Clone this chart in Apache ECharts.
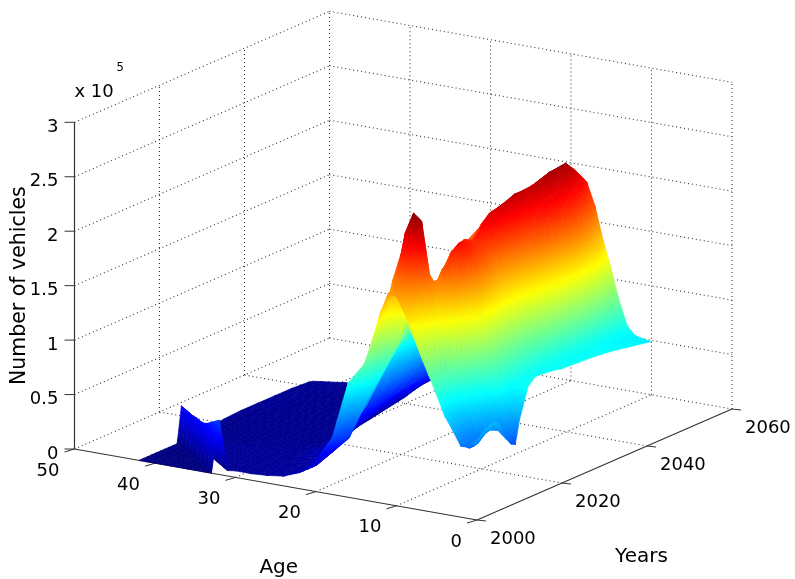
<!DOCTYPE html>
<html>
<head>
<meta charset="utf-8">
<style>
  html, body { margin: 0; padding: 0; background: #fff; }
  #chart { width: 795px; height: 579px; }
</style>
<script src="https://cdn.jsdelivr.net/npm/echarts@6/dist/echarts.min.js"></script>
</head>
<body>
<div id="chart"></div>
<script>
// tick labels
var ageTicks = [0, 10, 20, 30, 40, 50];
var yearTicks = [2000, 2020, 2040, 2060];
var valueTicks = [0, 0.5, 1, 1.5, 2, 2.5, 3];
// surface samples, values in units of 10^5 vehicles
var ages = [0, 2, 3, 4, 5, 6, 7, 8, 9, 10, 11, 12, 13, 14, 16, 18, 20, 22, 24, 26, 28, 30, 31, 32, 33, 34, 35, 36, 37, 38, 39, 40, 41, 42];
var years = [2000, 2001, 2002, 2003, 2004, 2005, 2006, 2007, 2008, 2009, 2010, 2012, 2014, 2016, 2018, 2020, 2024, 2028, 2032, 2036, 2040, 2041];
var vehicles = [
  [.7,.65,.78,.9,1.08,1.25,1.42,1.6,1.78,1.92,1.94,1.75,1.48,1.25,1.05,.52,.28,.15,.09,.07,.06,.06, .05,.5,0,0,0,0,0,0,0,0,0,0],
  [.75,.63,.75,.88,1.05,1.22,1.42,1.62,1.85,1.98,1.95,1.8,1.55,1.3,1,.52,.3,.15,.09,.07,.06,.06, .06,.05,.46,0,0,0,0,0,0,0,0,0],
  [.8,.6,.72,.85,1.02,1.2,1.45,1.72,2,2.08,2,1.85,1.6,1.32,.95,.5,.3,.15,.09,.07,.06,.06, .06,.06,.05,.42,0,0,0,0,0,0,0,0],
  [.82,.6,.72,.85,1.05,1.25,1.5,1.85,2.2,2.3,2.25,2,1.65,1.32,.88,.48,.3,.15,.08,.07,.06,.06, .06,.06,.06,.05,.38,0,0,0,0,0,0,0],
  [.83,.61,.72,.85,1.05,1.25,1.6,2.08,2.56,2.62,2.43,2.03,1.65,1.3,.8,.45,.3,.15,.08,.07,.06,.06, .06,.06,.06,.06,.05,.35,0,0,0,0,0,0],
  [.8,.66,.8,.95,1.2,1.5,1.85,2,2,1.95,1.85,1.7,1.45,1.25,.85,.52,.33,.17,.09,.07,.06,.06, .06,.06,.06,.06,.06,.05,.34,0,0,0,0,0],
  [.72,.7,.85,1,1.35,1.75,2.12,2,1.88,1.85,1.72,1.55,1.35,1.2,.9,.6,.38,.2,.1,.07,.06,.06, .06,.06,.06,.06,.06,.06,.05,.34,0,0,0,0],
  [.62,.75,.9,1.1,1.45,1.95,2.2,2.08,1.9,1.85,1.78,1.62,1.42,1.27,.95,.64,.42,.22,.11,.08,.06,.06, .06,.06,.06,.06,.06,.06,.06,.05,.33,0,0,0],
  [.56,.8,1,1.25,1.6,2.1,2.25,2.1,1.95,1.85,1.8,1.7,1.5,1.35,1,.68,.45,.25,.12,.08,.06,.06, .06,.06,.06,.06,.06,.06,.06,.06,.05,.33,0,0],
  [.54,.98,1.15,1.35,1.78,2.2,2.3,2.2,2.02,1.87,1.8,1.7,1.58,1.4,1.05,.74,.55,.32,.16,.09,.06,.06, .06,.06,.06,.06,.06,.06,.06,.06,.06,.05,.33,0],
  [.75,1,1.18,1.4,1.85,2.2,2.3,2.2,2.05,1.86,1.75,1.7,1.6,1.45,1.1,.8,.68,.4,.2,.1,.06,.06, .06,.06,.06,.06,.06,.06,.06,.06,.06,.06,.05,.33],
  [1.02,1,1.15,1.4,1.8,2.1,2.23,2.25,2.15,2.02,1.85,1.74,1.7,1.55,1.2,.95,.85,.5,.25,.1,.06,.05, .05,.05,.05,.05,.04,.04,.04,.04,.03,.03,.03,.03],
  [1.09,1,1.12,1.35,1.75,2.05,2.2,2.22,2.22,2.12,1.98,1.8,1.7,1.6,1.28,1.02,.95,.56,.28,.1,.06,.05, .05,.05,.05,.05,.04,.04,.04,.04,.03,.03,.03,.03],
  [1.08,1,1.1,1.3,1.65,1.95,2.17,2.3,2.18,2.15,2.08,1.96,1.75,1.65,1.35,1.1,1.03,.6,.3,.1,.05,.04, .04,.04,.04,.04,.04,.04,.04,.04,.03,.03,.03,.03],
  [1.07,1,1.08,1.3,1.65,1.95,2.2,2.4,2.26,2.13,2.1,2.02,1.9,1.72,1.4,1.15,1.02,.62,.32,.12,.05,.04, .04,.04,.04,.04,.04,.04,.04,.04,.03,.03,.03,.03],
  [1.05,1,1.05,1.3,1.65,2,2.25,2.42,2.36,2.25,2.1,2.05,1.95,1.85,1.45,1.2,1,.62,.32,.14,.05,.04, .04,.04,.04,.04,.04,.04,.04,.04,.04,.04,.04,.04],
  [1.04,1,1.05,1.4,1.8,2.1,2.28,2.48,2.4,2.33,2.26,2.15,2.02,1.95,1.5,1.22,.98,.65,.38,.2,.06,.04, .04,.04,.04,.04,.04,.04,.04,.04,.04,.04,.04,.05],
  [1.03,1,1.05,1.5,1.95,2.25,2.35,2.48,2.42,2.38,2.3,2.24,2.15,2.05,1.55,1.25,.98,.68,.42,.26,.09,.04, .04,.04,.04,.04,.04,.04,.04,.04,.04,.05,.05,.05],
  [1.01,1,1.05,1.55,2,2.25,2.38,2.54,2.45,2.4,2.32,2.25,2.05,1.9,1.6,1.3,1,.7,.45,.3,.12,.05, .04,.04,.04,.04,.04,.04,.04,.04,.04,.05,.05,.05],
  [.98,.98,1.02,1.45,1.85,2.15,2.35,2.56,2.5,2.45,2.38,2.28,2.15,2,1.65,1.35,1.05,.72,.45,.3,.15,.06, .05,.04,.04,.04,.04,.04,.04,.04,.04,.05,.05,.05],
  [.95,.97,1,1.3,1.6,1.85,2.15,2.36,2.42,2.42,2.4,2.3,2.1,1.95,1.68,1.38,1.08,.72,.45,.3,.2,.08, .06,.05,.04,.04,.04,.05,.05,.05,.05,.05,.04,.04],
  [.94,.97,1.05,1.27,1.55,1.8,2.1,2.3,2.35,2.38,2.38,2.28,2.12,2,1.7,1.4,1.1,.7,.45,.3,.2,.08, .06,.05,.05,.06,.06,.07,.07,.07,.06,.05,.04,.03]
];
var colorMax = 2.65;

// fixed view of the box: one axis unit in plane coordinates
function project(age, year, value) {
  var d = year - 2000;
  return [
    477 - 8.05 * age + 4.25 * d,
    520 - 1.42 * age - 1.85 * d - 108.9 * value
  ];
}

function jet(f) {
  f = Math.max(0, Math.min(1, f));
  function c(x) { return Math.round(255 * Math.max(0, Math.min(1, 1.5 - Math.abs(4 * f - x)))); }
  return "rgb(" + c(3) + "," + c(2) + "," + c(1) + ")";
}

var myChart = echarts.init(document.getElementById("chart"), null, { renderer: "canvas" });

// each grid quad is two triangles, cut along the cohort diagonal, back to front
var cells = [];
for (var r = years.length - 2; r >= 0; r--) {
  for (var c = ages.length - 2; c >= 0; c--) {
    cells.push([r, c, 0]);
    cells.push([r, c, 1]);
  }
}

function renderCell(params, api) {
  var r = api.value(0), c = api.value(1);
  var keys = api.value(2) === 0
    ? [[r, c], [r, c + 1], [r + 1, c + 1]]
    : [[r, c], [r + 1, c + 1], [r + 1, c]];
  var p = keys.map(function (k) {
    var v = vehicles[k[0]][k[1]];
    return { v: v, pt: api.coord(project(ages[k[1]], years[k[0]], v)) };
  });
  // value is linear on the triangle, so shade along its screen gradient
  var ax = p[1].pt[0] - p[0].pt[0], ay = p[1].pt[1] - p[0].pt[1];
  var bx = p[2].pt[0] - p[0].pt[0], by = p[2].pt[1] - p[0].pt[1];
  var dv1 = p[1].v - p[0].v, dv2 = p[2].v - p[0].v;
  var det = ax * by - ay * bx;
  var vMin = Math.min(p[0].v, p[1].v, p[2].v), vMax = Math.max(p[0].v, p[1].v, p[2].v);
  var fill;
  if (vMax - vMin < 0.002 || Math.abs(det) < 0.05) {
    fill = jet((vMin + vMax) / 2 / colorMax);
  } else {
    var gx = (dv1 * by - dv2 * ay) / det, gy = (ax * dv2 - bx * dv1) / det;
    var g2 = gx * gx + gy * gy;
    // end points of the ramp, from the value at vertex 0
    var x1 = p[0].pt[0] + gx * (vMin - p[0].v) / g2, y1 = p[0].pt[1] + gy * (vMin - p[0].v) / g2;
    var x2 = p[0].pt[0] + gx * (vMax - p[0].v) / g2, y2 = p[0].pt[1] + gy * (vMax - p[0].v) / g2;
    var stops = [];
    for (var i = 0; i <= 12; i++) {
      stops.push({ offset: i / 12, color: jet((vMin + (vMax - vMin) * i / 12) / colorMax) });
    }
    fill = new echarts.graphic.LinearGradient(x1, y1, x2, y2, stops, true);
  }
  return {
    type: "polygon",
    shape: { points: p.map(function (q) { return q.pt; }) },
    style: { fill: fill, stroke: fill, lineWidth: 0.7 }
  };
}

// dotted box grid: [age0, year0, value0, age1, year1, value1]
var gridLines = [];
valueTicks.forEach(function (v) {
  if (v > 0) {
    gridLines.push([50, 2000, v, 50, 2060, v]);
    gridLines.push([50, 2060, v, 0, 2060, v]);
  }
});
yearTicks.forEach(function (y) {
  if (y > 2000) gridLines.push([50, y, 0, 50, y, 3]);
  if (y > 2000) gridLines.push([50, y, 0, 0, y, 0]);
});
ageTicks.forEach(function (a) {
  if (a < 50) gridLines.push([a, 2060, 0, a, 2060, 3]);
  if (a > 0 && a < 50) gridLines.push([a, 2000, 0, a, 2060, 0]);
});
gridLines.push([50, 2000, 0, 50, 2060, 0]);

function renderSegment(dash, color, width) {
  return function (params, api) {
    var a = api.coord(project(api.value(0), api.value(1), api.value(2)));
    var b = api.coord(project(api.value(3), api.value(4), api.value(5)));
    return {
      type: "line",
      shape: { x1: a[0], y1: a[1], x2: b[0], y2: b[1] },
      style: { stroke: color, lineWidth: width, lineDash: dash }
    };
  };
}

var axisLines = [
  [50, 2000, 0, 50, 2000, 3],
  [50, 2000, 0, 0, 2000, 0],
  [0, 2000, 0, 0, 2060, 0]
];

// ticks: [age, year, value, dx, dy]
var tickMarks = [];
valueTicks.forEach(function (v) { tickMarks.push([50, 2000, v, -10, 0]); });
ageTicks.forEach(function (a) { tickMarks.push([a, 2000, 0, -10, 3]); });
yearTicks.forEach(function (y) { tickMarks.push([0, y, 0, 9, 1]); });

function renderTick(params, api) {
  var p = project(api.value(0), api.value(1), api.value(2));
  var a = api.coord(p);
  var b = api.coord([p[0] + api.value(3), p[1] + api.value(4)]);
  return {
    type: "line",
    shape: { x1: a[0], y1: a[1], x2: b[0], y2: b[1] },
    style: { stroke: "#333", lineWidth: 1 }
  };
}

// labels: [text, age, year, value, dx, dy, align, size, rotated]
var labels = [];
valueTicks.forEach(function (v) { labels.push([String(v), 50, 2000, v, -16, 5, "right", 18, 0]); });
ageTicks.forEach(function (a) { labels.push([String(a), a, 2000, 0, -15, 22, "right", 18, 0]); });
yearTicks.forEach(function (y) { labels.push([String(y), 0, y, 0, 13, 19, "left", 18, 0]); });
labels.push(["x 10", 50, 2000, 3, 0, -30, "left", 18, 0]);
labels.push(["5", 50, 2000, 3, 42, -54, "left", 11.5, 0]);
labels.push(["Age", 25, 2000, 0, 3, 83, "center", 20, 0]);
labels.push(["Years", 0, 2030, 0, 37, 92, "center", 20, 0]);
labels.push(["Number of vehicles", 50, 2000, 1.5, -55, 0, "center", 20.5, 1]);

function renderLabel(params, api) {
  var l = labels[api.value(0)];
  var p = project(l[1], l[2], l[3]);
  var at = api.coord([p[0] + l[4], p[1] + l[5]]);
  return {
    type: "text",
    x: at[0],
    y: at[1],
    rotation: l[8] ? Math.PI / 2 : 0,
    style: {
      text: l[0],
      fill: "#000",
      font: l[7] + 'px "DejaVu Sans"',
      align: l[6],
      verticalAlign: "middle"
    }
  };
}

var option = {
  backgroundColor: "#fff",
  animation: false,
  tooltip: { show: false },
  grid: { left: 0, right: 0, top: 0, bottom: 0 },
  xAxis: { type: "value", min: 0, max: 795, show: false },
  yAxis: { type: "value", min: 0, max: 579, inverse: true, show: false },
  series: [{
    name: "grid",
    type: "custom",
    coordinateSystem: "cartesian2d",
    silent: true,
    z: 1,
    renderItem: renderSegment([1, 3], "#333", 1.1),
    data: gridLines
  }, {
    name: "axes",
    type: "custom",
    coordinateSystem: "cartesian2d",
    silent: true,
    z: 2,
    renderItem: renderSegment(null, "#333", 1.2),
    data: axisLines
  }, {
    name: "ticks",
    type: "custom",
    coordinateSystem: "cartesian2d",
    silent: true,
    z: 2,
    renderItem: renderTick,
    data: tickMarks
  }, {
    name: "Number of vehicles",
    type: "custom",
    coordinateSystem: "cartesian2d",
    silent: true,
    z: 3,
    renderItem: renderCell,
    data: cells
  }, {
    name: "labels",
    type: "custom",
    coordinateSystem: "cartesian2d",
    silent: true,
    z: 4,
    renderItem: renderLabel,
    data: labels.map(function (l, i) { return [i]; })
  }]
};

myChart.setOption(option);
window.addEventListener("resize", function () {
  myChart.resize();
});
</script>
</body>
</html>
